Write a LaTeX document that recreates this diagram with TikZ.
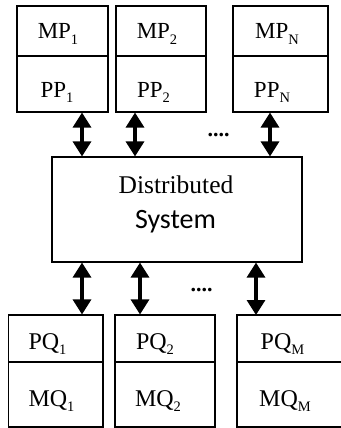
\documentclass[tikz,border=0pt]{standalone}
\usepackage{fontspec}
\setmainfont{Liberation Serif}
\newfontfamily\calib{Carlito}
\usetikzlibrary{arrows.meta}
\newcommand{\sbs}[1]{\raisebox{-0.22em}{\fontsize{14.5}{14.5}\selectfont #1}}
\tikzset{
  box/.style={draw, line width=1.1pt, inner sep=0pt, rectangle},
  lbl/.style={anchor=base, inner sep=0pt, font=\fontsize{23}{24}\selectfont},
  lblb/.style={anchor=base, inner sep=0pt, font=\fontsize{24}{25}\selectfont},
  dbl/.style={line width=3.2pt, {Triangle[width=18pt,length=15pt]}-{Triangle[width=18pt,length=15pt]}},
  dots/.style={anchor=base, inner sep=0pt, font=\bfseries\fontsize{22}{24}\selectfont}
}
\begin{document}
\begin{tikzpicture}[x=1pt,y=-1pt]
\useasboundingbox (0,0) rectangle (340,428);
% top boxes
\node[box, minimum width=91pt, minimum height=50pt] (mpb1) at (62.5,31) {};
\node[box, minimum width=91pt, minimum height=56pt] (ppb1) at (62.5,84) {};
\node[box, minimum width=90pt, minimum height=50pt] (mpb2) at (161,31) {};
\node[box, minimum width=90pt, minimum height=56pt] (ppb2) at (161,84) {};
\node[box, minimum width=95pt, minimum height=50pt] (mpb3) at (280.5,31) {};
\node[box, minimum width=95pt, minimum height=56pt] (ppb3) at (280.5,84) {};
\node[lbl] (mp1) at (58,39) {MP\sbs{1}};
\node[lbl] (mp2) at (157,39) {MP\sbs{2}};
\node[lbl] (mpn) at (277,39) {MP\sbs{N}};
\node[lbl] (pp1) at (57,97) {PP\sbs{1}};
\node[lbl] (pp2) at (153.5,97) {PP\sbs{2}};
\node[lbl] (ppn) at (272,97) {PP\sbs{N}};
% distributed system
\node[box, minimum width=250pt, minimum height=105pt] (ds) at (177,209.5) {};
\node[anchor=base, inner sep=0pt, font=\fontsize{25.5}{27}\selectfont] (dist) at (176,193) {Distributed};
\node[anchor=base, inner sep=0pt, font=\calib\fontsize{28}{29}\selectfont] (sys) at (175.5,228) {System};
% bottom boxes
\node[box, minimum width=94.5pt, minimum height=47pt] (pqb1) at (55.75,338.5) {};
\node[box, minimum width=94.5pt, minimum height=65pt] (mqb1) at (55.75,394.5) {};
\node[box, minimum width=100pt, minimum height=47pt] (pqb2) at (165,338.5) {};
\node[box, minimum width=100pt, minimum height=65pt] (mqb2) at (165,394.5) {};
\coordinate (c3a) at (345,315);
\coordinate (c3b) at (237,315);
\coordinate (c3c) at (237,427);
\coordinate (c3d) at (345,427);
\coordinate (c3e) at (237,362);
\coordinate (c3f) at (345,362);
\draw[line width=1.1pt] (c3a) -- (c3b) -- (c3c) -- (c3d);
\draw[line width=1.1pt] (c3e) -- (c3f);
\node[lblb] (pq1) at (47.5,349) {PQ\sbs{1}};
\node[lblb] (pq2) at (155,349) {PQ\sbs{2}};
\node[lblb] (pqm) at (282.5,349) {PQ\sbs{M}};
\node[lblb] (mq1) at (51.5,406) {MQ\sbs{1}};
\node[lblb] (mq2) at (158,406) {MQ\sbs{2}};
\node[lblb] (mqm) at (285,406) {MQ\sbs{M}};
% arrows
\coordinate (a1) at (82,0);
\coordinate (a2) at (135,0);
\coordinate (a3) at (270,0);
\coordinate (b1) at (82,0);
\coordinate (b2) at (140,0);
\coordinate (b3) at (256,0);
\draw[dbl] (ppb1.south -| a1) -- (ds.north -| a1);
\draw[dbl] (ppb2.south -| a2) -- (ds.north -| a2);
\draw[dbl] (ppb3.south -| a3) -- (ds.north -| a3);
\draw[dbl] (ds.south -| b1) -- (pqb1.north -| b1);
\draw[dbl] (ds.south -| b2) -- (pqb2.north -| b2);
\draw[dbl] (ds.south -| b3) -- (c3b -| b3);
\node[dots] (dt1) at (218.5,136) {....};
\node[dots] (dt2) at (201.5,291) {....};
\end{tikzpicture}
\end{document}
